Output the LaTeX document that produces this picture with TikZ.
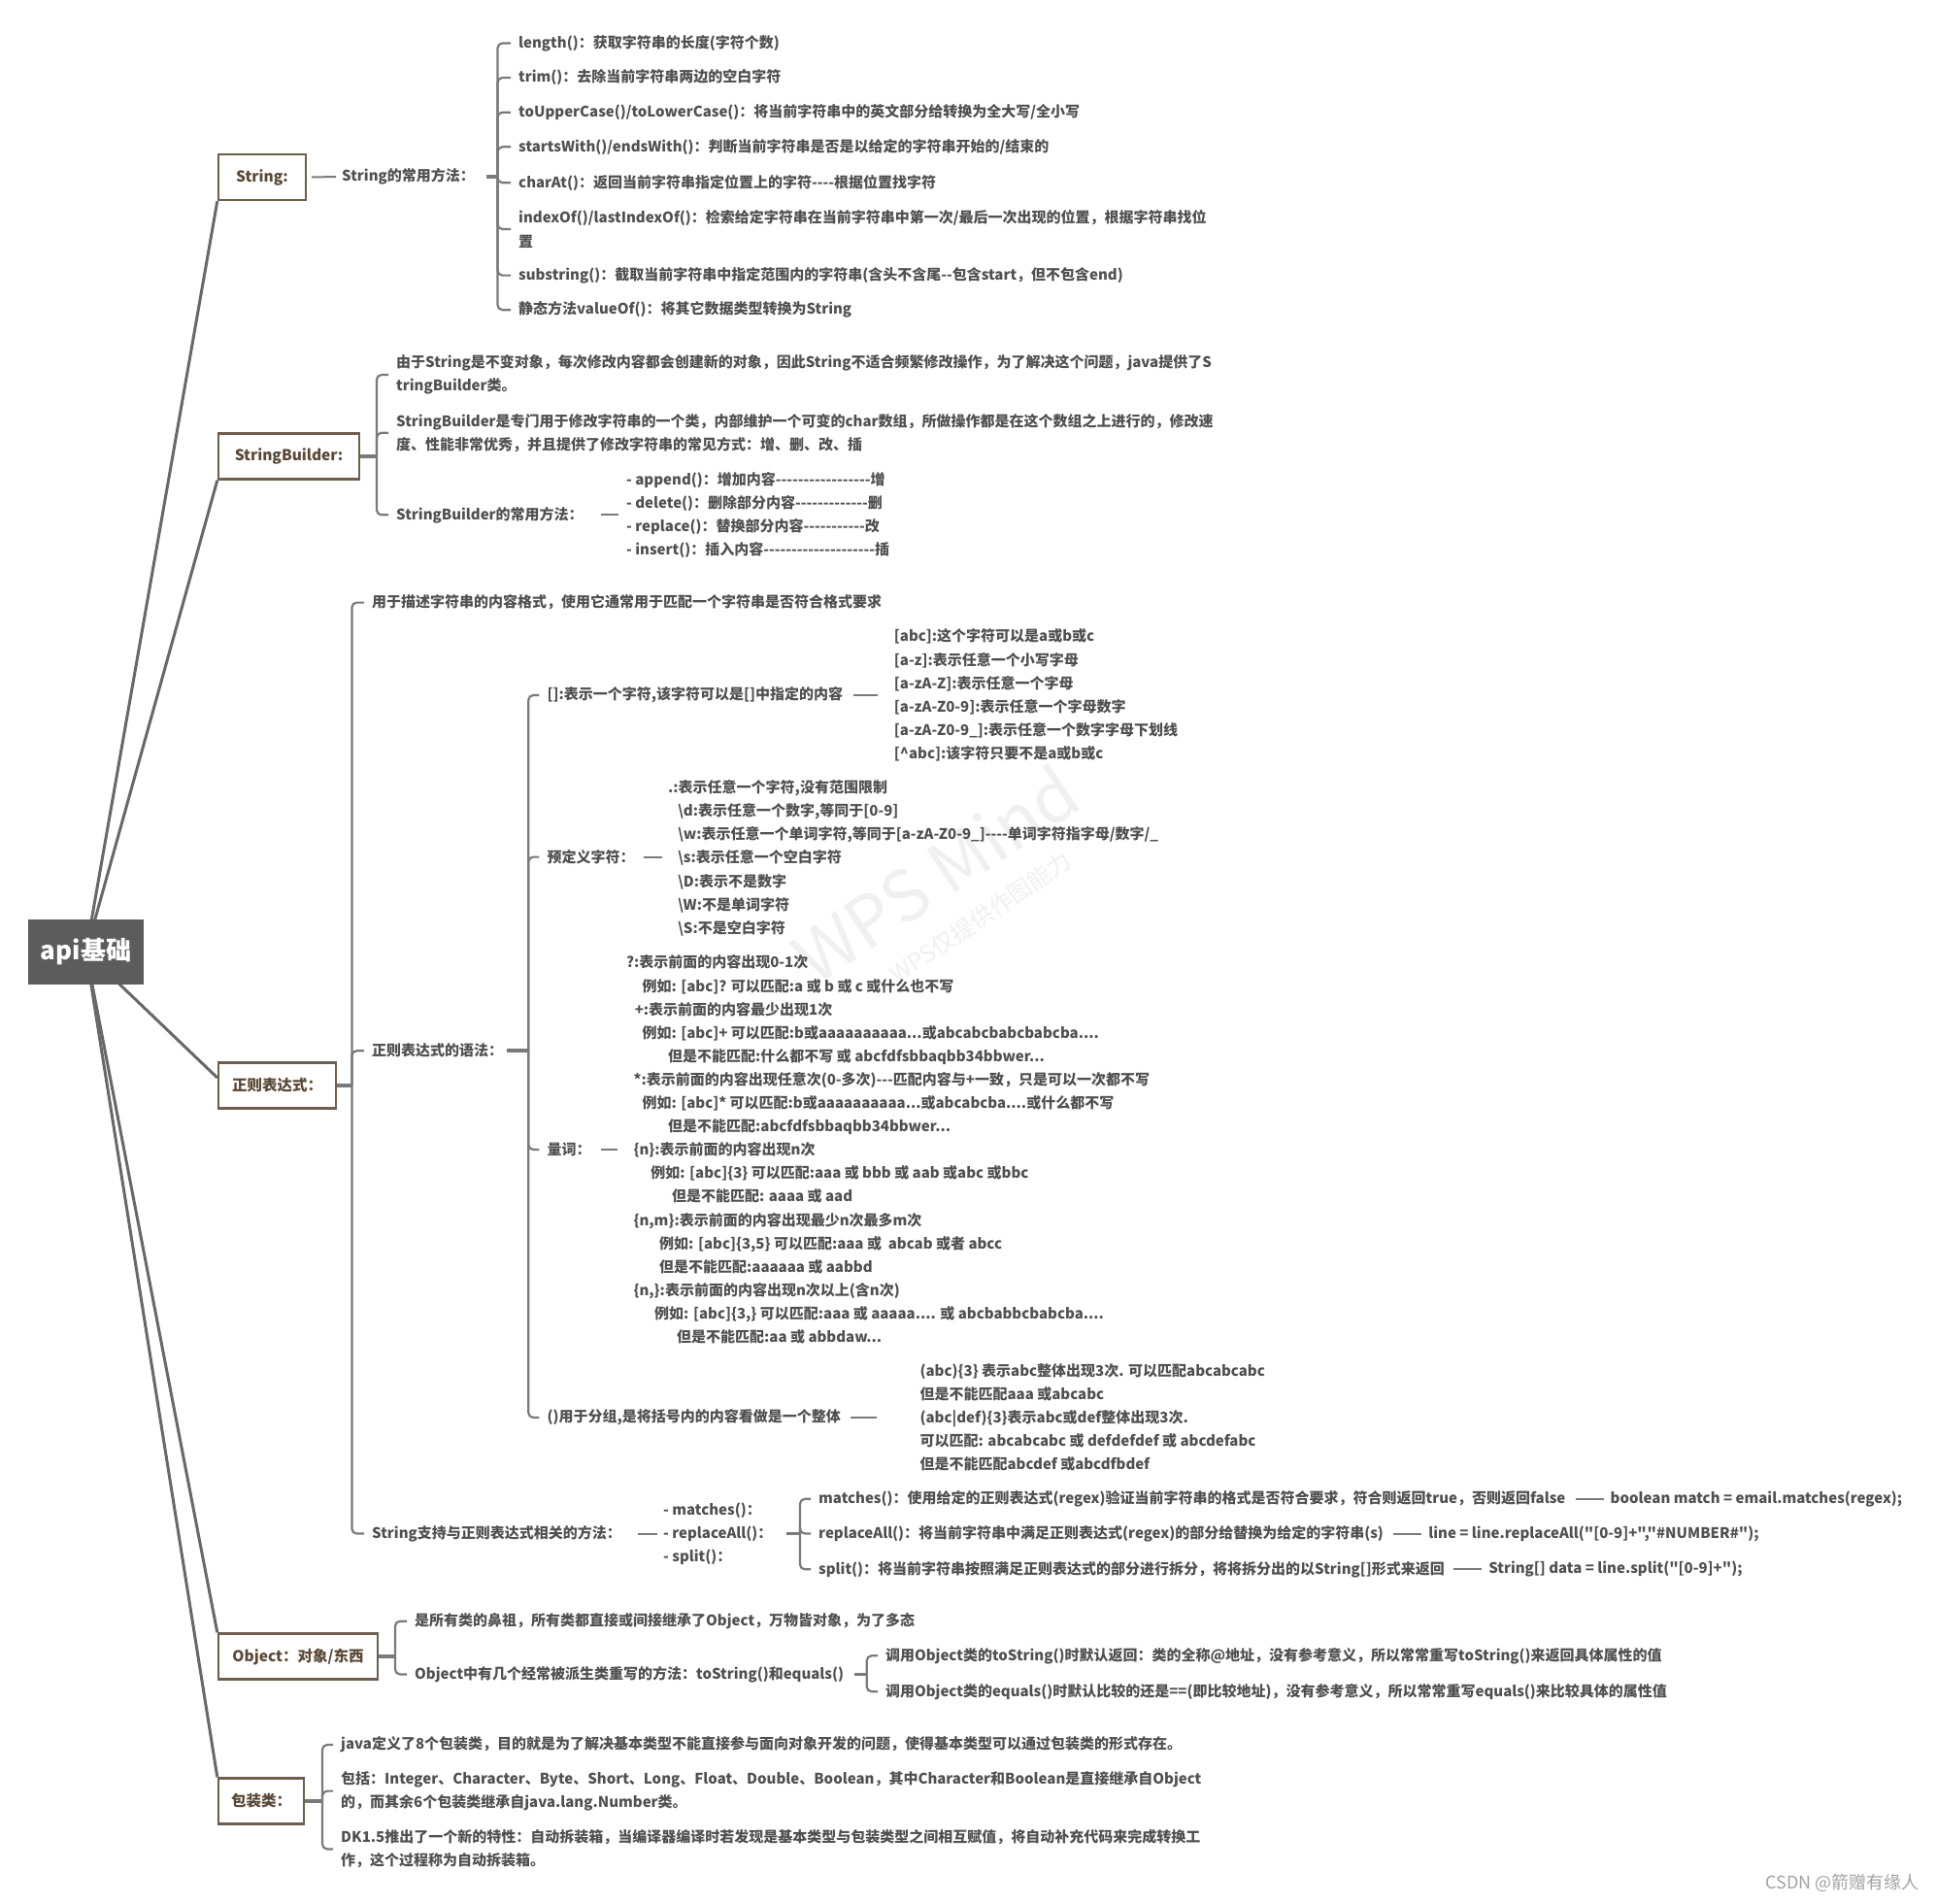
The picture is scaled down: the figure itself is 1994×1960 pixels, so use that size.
\documentclass[tikz,border=0pt]{standalone}
\usepackage{fontspec}
\setmainfont{Noto Sans CJK SC}
\font\qfnt="Noto Sans CJK SC/B" at 15pt
\usetikzlibrary{backgrounds}
\definecolor{txt}{HTML}{505050}
\definecolor{boxc}{HTML}{6E5E4E}
\definecolor{boxt}{HTML}{5A4836}
\definecolor{ln}{HTML}{7A7A7A}
\definecolor{mainl}{HTML}{686868}
\definecolor{rootc}{HTML}{5C5C5C}
\definecolor{wmc}{HTML}{F0F0F0}
\definecolor{csdnc}{HTML}{A3A3A3}
\ExplSyntaxOn
\cs_new:Npn \myhys #1 { \prg_replicate:nn {#1} { \hbox{-} } }
\ExplSyntaxOff
\begin{document}
\begin{tikzpicture}[x=1pt,y=-1pt,
 t/.style={anchor=west, inner sep=0pt, text=txt, align=left, font=\fontsize{15}{24.1}\selectfont\bfseries},
 q/.style={anchor=west, inner sep=0pt, text=txt, font=\qfnt},
 box/.style={draw=boxc, line width=2.4pt, fill=white, text=boxt, inner sep=0pt, minimum height=47pt, font=\fontsize{15.5}{19}\selectfont\bfseries},
 rootbox/.style={fill=rootc, text=white, inner sep=0pt, minimum width=119pt, minimum height=67pt, font=\fontsize{26}{30}\selectfont\bfseries},
 mainline/.style={draw=mainl, line width=3pt},
 br/.style={draw=ln, line width=2.2pt, rounded corners=5pt},
 stub/.style={draw=ln, line width=3.6pt},
 one/.style={draw=ln, line width=2pt},
 wm/.style={text=wmc, inner sep=0pt, rotate=34}]
\useasboundingbox (0,0) rectangle (1994,1960);
% watermark
\node[wm, font=\fontsize{72}{80}\selectfont] (wm1) at (963,900) {WPS Mind};
\node[wm, font=\fontsize{24}{28}\selectfont] (wm2) at (1010,945) {WPS仅提供作图能力};

% root and main boxes
\node[rootbox] (root) at (88.5,980.5) {api基础};
\node[box, minimum width=90pt] (bS) at (270,182.5) {String:};
\node[box, minimum width=145pt] (bSB) at (297.5,470) {StringBuilder:};
\node[box, minimum width=121pt] (bRE) at (285.5,1118) {正则表达式：};
\node[box, minimum width=164pt] (bOB) at (307,1706) {Object：对象/东西};
\node[box, minimum width=88pt] (bWR) at (269,1855) {包装类：};

% String
\node[t] (s1) at (352,182) {String的常用方法：};
\coordinate (kS) at (512.5,182);
\node[t] (c1) at (534,44.5) {length()：获取字符串的长度(字符个数)};
\node[t] (c2) at (534,80) {trim()：去除当前字符串两边的空白字符};
\node[t] (c3) at (534,115.7) {toUpperCase()/toLowerCase()：将当前字符串中的英文部分给转换为全大写/全小写};
\node[t] (c4) at (534,151.3) {startsWith()/endsWith()：判断当前字符串是否是以给定的字符串开始的/结束的};
\node[t] (c5) at (534,188.2) {charAt()：返回当前字符串指定位置上的字符\myhys{4}根据位置找字符};
\node[t] (c6) at (534,236) {indexOf()/lastIndexOf()：检索给定字符串在当前字符串中第一次/最后一次出现的位置，根据字符串找位\\置};
\node[t] (c7) at (534,283.6) {substring()：截取当前字符串中指定范围内的字符串(含头不含尾\myhys{2}包含start，但不包含end)};
\node[t] (c8) at (534,319.2) {静态方法valueOf()：将其它数据类型转换为String};

% StringBuilder
\coordinate (kSB) at (388,470);
\node[t] (sb1) at (408,386) {由于String是不变对象，每次修改内容都会创建新的对象，因此String不适合频繁修改操作，为了解决这个问题，java提供了S\\tringBuilder类。};
\node[t] (sb2) at (408,445.7) {StringBuilder是专门用于修改字符串的一个类，内部维护一个可变的char数组，所做操作都是在这个数组之上进行的，修改速\\度、性能非常优秀，并且提供了修改字符串的常见方式：增、删、改、插};
\node[t] (sb3) at (408,530.3) {StringBuilder的常用方法：};
\node[t] (sbm) at (645,530.3) {- append()：增加内容\myhys{17}增\\- delete()：删除部分内容\myhys{13}删\\- replace()：替换部分内容\myhys{11}改\\- insert()：插入内容\myhys{20}插};

% Regex
\coordinate (kRE) at (362.4,1118);
\node[t] (r1) at (383,620.6) {用于描述字符串的内容格式，使用它通常用于匹配一个字符串是否符合格式要求};
\node[t] (r2) at (383,1082.2) {正则表达式的语法：};
\node[t] (r3) at (383,1579.5) {String支持与正则表达式相关的方法：};
\coordinate (kR2) at (544.3,1082.2);
\node[t] (g1) at (563.4,716) {[]:表示一个字符,该字符可以是[]中指定的内容};
\node[t] (g2) at (563.4,882.6) {预定义字符：};
\node[t] (g3) at (563.4,1184) {量词：};
\node[t] (g4) at (563.4,1460) {()用于分组,是将括号内的内容看做是一个整体};
\node[t] (gb1) at (920.7,716) {[abc]:这个字符可以是a或b或c\\{}[a-z]:表示任意一个小写字母\\{}[a-zA-Z]:表示任意一个字母\\{}[a-zA-Z0-9]:表示任意一个字母数字\\{}[a-zA-Z0-9\_]:表示任意一个数字字母下划线\\{}[\textasciicircum abc]:该字符只要不是a或b或c};
\node[t] (gb2) at (688,883.8) {.:表示任意一个字符,没有范围限制\\\hspace*{10pt}\textbackslash d:表示任意一个数字,等同于[0-9]\\\hspace*{10pt}\textbackslash w:表示任意一个单词字符,等同于[a-zA-Z0-9\_]\myhys{4}单词字符指字母/数字/\_\\\hspace*{10pt}\textbackslash s:表示任意一个空白字符\\\hspace*{10pt}\textbackslash D:表示不是数字\\\hspace*{10pt}\textbackslash W:不是单词字符\\\hspace*{10pt}\textbackslash S:不是空白字符};
\node[t] (gb3) at (644.8,1184) {?:表示前面的内容出现0-1次\\
\hspace*{16.5pt}例如: [abc]? 可以匹配:a 或 b 或 c 或什么也不写\\
\hspace*{8.8pt}+:表示前面的内容最少出现1次\\
\hspace*{16.5pt}例如: [abc]+ 可以匹配:b或aaaaaaaaaa...或abcabcbabcbabcba....\\
\hspace*{43.2pt}但是不能匹配:什么都不写 或 abcfdfsbbaqbb34bbwer...\\
\hspace*{7.6pt}*:表示前面的内容出现任意次(0-多次)\myhys{3}匹配内容与+一致，只是可以一次都不写\\
\hspace*{16.5pt}例如: [abc]* 可以匹配:b或aaaaaaaaaa...或abcabcba....或什么都不写\\
\hspace*{43.2pt}但是不能匹配:abcfdfsbbaqbb34bbwer...\\
\hspace*{7.6pt}\{n\}:表示前面的内容出现n次\\
\hspace*{25.4pt}例如: [abc]\{3\} 可以匹配:aaa 或 bbb 或 aab 或abc 或bbc\\
\hspace*{47pt}但是不能匹配: aaaa 或 aad\\
\hspace*{7.6pt}\{n,m\}:表示前面的内容出现最少n次最多m次\\
\hspace*{34.2pt}例如: [abc]\{3,5\} 可以匹配:aaa 或\ \ abcab 或者 abcc\\
\hspace*{34.2pt}但是不能匹配:aaaaaa 或 aabbd\\
\hspace*{7.6pt}\{n,\}:表示前面的内容出现n次以上(含n次)\\
\hspace*{29.2pt}例如: [abc]\{3,\} 可以匹配:aaa 或 aaaaa.... 或 abcbabbcbabcba....\\
\hspace*{52.2pt}但是不能匹配:aa 或 abbdaw...};
\node[t] (gb4) at (947.4,1460) {(abc)\{3\} 表示abc整体出现3次. 可以匹配abcabcabc\\但是不能匹配aaa 或abcabc\\(abc|def)\{3\}表示abc或def整体出现3次.\\可以匹配: abcabcabc 或 defdefdef 或 abcdefabc\\但是不能匹配abcdef 或abcdfbdef};
\node[t] (rm) at (683,1579.5) {- matches()：\\- replaceAll()：\\- split()：};
\coordinate (kRM) at (824,1579.5);
\node[t] (m1) at (843,1543.8) {matches()：使用给定的正则表达式(regex)验证当前字符串的格式是否符合要求，符合则返回true，否则返回false};
\node[t] (m2) at (843,1579.5) {replaceAll()：将当前字符串中满足正则表达式(regex)的部分给替换为给定的字符串(s)};
\node[t] (m3) at (843,1616.3) {split()：将当前字符串按照满足正则表达式的部分进行拆分，将将拆分出的以String[]形式来返回};
\node[q] (m1r) at ([xshift=46pt]m1.east) {boolean match = email.matches(regex);};
\node[q] (m2r) at ([xshift=46pt]m2.east) {line = line.replaceAll("[0-9]+","\#NUMBER\#");};
\node[q] (m3r) at ([xshift=45pt]m3.east) {String[] data = line.split("[0-9]+");};

% Object
\coordinate (kOB) at (407,1706);
\node[t] (o1) at (427,1669.7) {是所有类的鼻祖，所有类都直接或间接继承了Object，万物皆对象，为了多态};
\node[t] (o2) at (427,1724.4) {Object中有几个经常被派生类重写的方法：toString()和equals()};
\coordinate (kO2) at (892.7,1724.4);
\node[t] (o21) at (911.8,1705.3) {调用Object类的toString()时默认返回：类的全称@地址，没有参考意义，所以常常重写toString()来返回具体属性的值};
\node[t] (o22) at (911.8,1742.2) {调用Object类的equals()时默认比较的还是==(即比较地址)，没有参考意义，所以常常重写equals()来比较具体的属性值};

% Wrapper classes
\coordinate (kWR) at (332,1855);
\node[t] (w1) at (351,1797) {java定义了8个包装类，目的就是为了解决基本类型不能直接参与面向对象开发的问题，使得基本类型可以通过包装类的形式存在。};
\node[t] (w2) at (351,1844.6) {包括：Integer、Character、Byte、Short、Long、Float、Double、Boolean，其中Character和Boolean是直接继承自Object\\的，而其余6个包装类继承自java.lang.Number类。};
\node[t] (w3) at (351,1904.4) {DK1.5推出了一个新的特性：自动拆装箱，当编译器编译时若发现是基本类型与包装类型之间相互赋值，将自动补充代码来完成转换工\\作，这个过程称为自动拆装箱。};

\node[anchor=east, inner sep=0pt, text=csdnc, font=\fontsize{18}{22}\selectfont] (csdn) at (1977,1939) {CSDN @箭赠有缘人};

\begin{scope}[on background layer]
 \fill[white] (0,0) rectangle (1994,1960);
 \draw[mainline] (root.center) -- (bS.south west);
 \draw[mainline] (root.center) -- (bSB.south west);
 \draw[mainline] (root.center) -- ([yshift=8pt]bRE.west);
 \draw[mainline] (root.center) -- (bOB.north west);
 \draw[mainline] (root.center) -- (bWR.north west);
 % String
 \draw[one] ([xshift=5pt]bS.east) -- ([xshift=-6pt]s1.west);
 \draw[stub] ([xshift=12pt]s1.east) -- (kS);
 \foreach \c in {c1,c2,c3,c4,c5,c6,c7,c8} \draw[br] (kS) |- ([xshift=-8pt]\c.west);
 % StringBuilder
 \draw[stub] (bSB.east) -- (kSB);
 \foreach \c in {sb1,sb2,sb3} \draw[br] (kSB) |- ([xshift=-8pt]\c.west);
 \draw[one] ([xshift=18pt]sb3.east) -- ([xshift=-8pt]sbm.west);
 % Regex
 \draw[stub] (bRE.east) -- (kRE);
 \foreach \c in {r1,r2,r3} \draw[br] (kRE) |- ([xshift=-8pt]\c.west);
 \draw[stub] ([xshift=4pt]r2.east) -- (kR2);
 \foreach \c in {g1,g2,g3,g4} \draw[br] (kR2) |- ([xshift=-8pt]\c.west);
 \draw[one] ([xshift=11pt]g1.east) -- ([xshift=-17pt]gb1.west);
 \draw[one] ([xshift=9pt]g2.east) -- ([xshift=-6pt]gb2.west |- g2.east);
 \draw[one] ([xshift=10pt]g3.east) -- ([xshift=-9pt]gb3.west);
 \draw[one] ([xshift=10pt]g4.east) -- ([xshift=-44pt]gb4.west);
 \draw[one] ([xshift=17pt]r3.east) -- ([xshift=-6pt]rm.west);
 \draw[stub] ([xshift=14pt]rm.east) -- (kRM);
 \foreach \c in {m1,m2,m3} \draw[br] (kRM) |- ([xshift=-8pt]\c.west);
 \draw[one] ([xshift=10pt]m1.east) -- ([xshift=-7pt]m1r.west);
 \draw[one] ([xshift=10pt]m2.east) -- ([xshift=-7pt]m2r.west);
 \draw[one] ([xshift=9pt]m3.east) -- ([xshift=-7pt]m3r.west);
 % Object
 \draw[stub] (bOB.east) -- (kOB);
 \foreach \c in {o1,o2} \draw[br] (kOB) |- ([xshift=-8pt]\c.west);
 \draw[stub] ([xshift=11pt]o2.east) -- (kO2);
 \foreach \c in {o21,o22} \draw[br] (kO2) |- ([xshift=-8pt]\c.west);
 % Wrapper
 \draw[stub] (bWR.east) -- (kWR);
 \foreach \c in {w1,w2,w3} \draw[br] (kWR) |- ([xshift=-8pt]\c.west);
\end{scope}
\end{tikzpicture}
\end{document}
